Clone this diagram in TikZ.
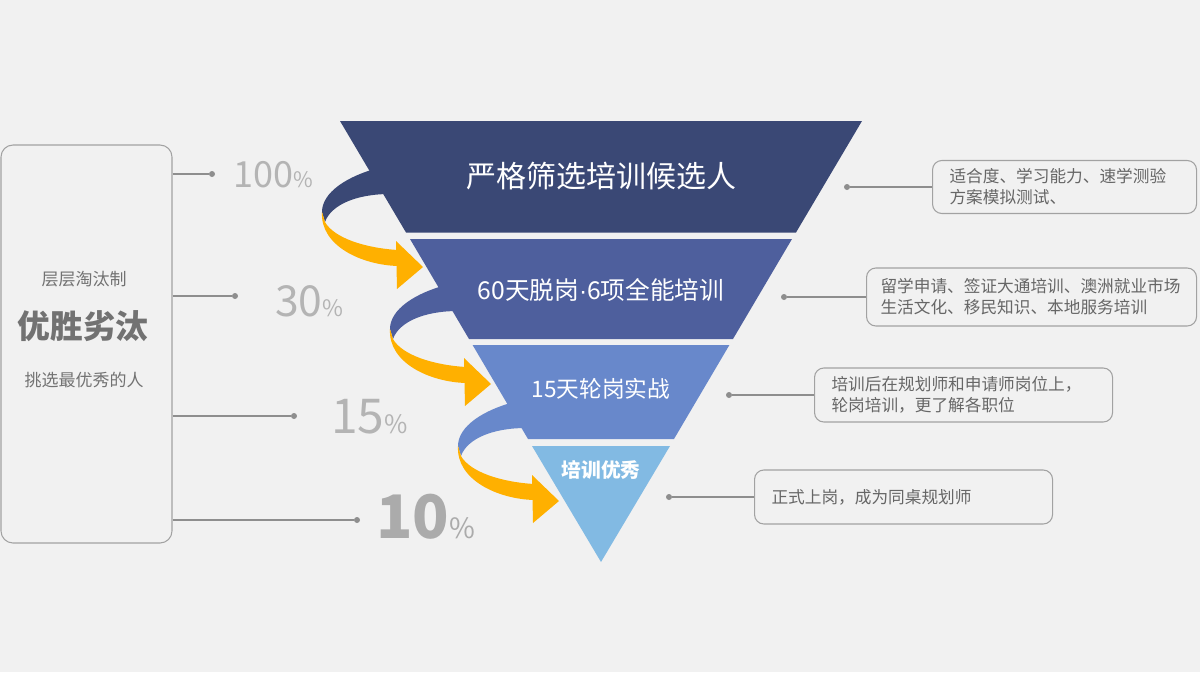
\documentclass[tikz,border=0pt]{standalone}
\usepackage{fontspec}
\setmainfont{Noto Sans CJK SC}
\newfontfamily\latinfont{Liberation Sans}
\usepackage{tikz}
\usetikzlibrary{positioning, calc}
\definecolor{pagebg}{HTML}{F1F1F1}
\definecolor{tierone}{HTML}{3A4875}
\definecolor{tiertwo}{HTML}{4E5F9D}
\definecolor{tierthree}{HTML}{6888CB}
\definecolor{tierfour}{HTML}{82BAE3}
\definecolor{ribbon}{HTML}{FFB000}
\definecolor{pctgray}{HTML}{B4B4B4}
\definecolor{linegray}{HTML}{8E8E8E}
\definecolor{boxgray}{HTML}{A2A2A2}
\definecolor{notetext}{HTML}{666666}
\definecolor{sidetext}{HTML}{727272}
\tikzstyle{layertext} = [text=white, inner sep=0pt]
\tikzstyle{pct} = [text=pctgray, inner sep=0pt, anchor=base west]
\tikzstyle{dot} = [circle, fill=linegray, inner sep=0pt, minimum size=4.5pt]
\tikzstyle{link} = [draw=linegray, line width=0.8pt]
\tikzstyle{note} = [rectangle, rounded corners=7pt, draw=boxgray, line width=0.8pt, anchor=west, align=left, inner xsep=12.75pt, text=notetext, font=\fontsize{12.5}{15.75}\selectfont]
\tikzstyle{side} = [text=sidetext, inner sep=0pt]
% twisted ribbon arrow: shift x, shift y, back colour
\newcommand{\twist}[3]{%
  \begin{scope}[shift={(#1,#2)}]
    \fill[#3] (378,168) .. controls (348,176) and (322,192) .. (322,212) -- (325,222)
      .. controls (331,205) and (356,194) .. (390,194) -- cycle;
    \fill[ribbon] (322,212) .. controls (320,246) and (362,265) .. (398,266) -- (398,250)
      .. controls (365,248) and (334,238) .. (325,222) -- cycle;
    \fill[ribbon] (396,241) -- (423,267) -- (397,289) -- cycle;
  \end{scope}}

\begin{document}
\begin{tikzpicture}[x=0.75pt, y=-0.75pt]
    \fill[pagebg] (0,0) rectangle (1200,672);
    \useasboundingbox (0,0) rectangle (1200,672);

    % Ribbons
    \twist{0}{0}{tierone}
    \twist{68}{117}{tiertwo}
    \twist{136}{234}{tierthree}

    % Funnel
    \fill[tierone] (340,121) -- (862,121) -- (796,232.5) -- (406,232.5) -- cycle;
    \fill[tiertwo] (410,239) -- (792,239) -- (733,339) -- (469,339) -- cycle;
    \fill[tierthree] (472.6,345) -- (729.4,345) -- (674,439) -- (528,439) -- cycle;
    \fill[tierfour] (532,446) -- (670,446) -- (601,562) -- cycle;
    \node[layertext, font=\fontsize{22.5}{27}\selectfont] (l1) at (601,176) {严格筛选培训候选人};
    \node[layertext, font=\fontsize{18.5}{22}\selectfont] (l2) at (601,290) {60天脱岗{\latinfont ·}6项全能培训};
    \node[layertext, font=\fontsize{17}{20}\selectfont] (l3) at (601,389) {15天轮岗实战};
    \node[layertext, font=\bfseries\fontsize{14.8}{18}\selectfont] (l4) at (601,470) {培训优秀};

    % Left panel
    \node[rectangle, rounded corners=9pt, draw=boxgray, line width=0.8pt, minimum width=128.25pt, minimum height=298.5pt, inner sep=0pt] (lbox) at (86.5,344) {};
    \node[side, font=\fontsize{12.75}{15}\selectfont] (s1) at (84,279) {层层淘汰制};
    \node[side, font=\bfseries\fontsize{24.5}{28}\selectfont] (s2) at (83,326) {优胜劣汰};
    \node[side, font=\fontsize{12.75}{15}\selectfont] (s3) at (84,380) {挑选最优秀的人};

    % Percentages
    \node[dot] (d1) at (212,174) {};
    \node[dot] (d2) at (235,296) {};
    \node[dot] (d3) at (294,416) {};
    \node[dot] (d4) at (357,520) {};
    \draw[link] (lbox.east |- d1) -- (d1);
    \draw[link] (lbox.east |- d2) -- (d2);
    \draw[link] (lbox.east |- d3) -- (d3);
    \draw[link] (lbox.east |- d4) -- (d4);
    \node[pct, font=\fontsize{27}{27}\selectfont] (p1) at (233,187) {100{\fontsize{16}{16}\selectfont\%}};
    \node[pct, font=\fontsize{32}{32}\selectfont] (p2) at (275,316) {30{\fontsize{17}{17}\selectfont\%}};
    \node[pct, font=\fontsize{36}{36}\selectfont] (p3) at (331,433) {15{\fontsize{19}{19}\selectfont\%}};
    \node[pct, text=pctgray!95!black, font=\bfseries\fontsize{45}{45}\selectfont] (p4) at (376,538) {10{\mdseries\fontsize{21}{21}\selectfont\%}};

    % Notes
    \node[dot] (r1) at (847,187) {};
    \node[dot] (r2) at (784,297) {};
    \node[dot] (r3) at (729,395) {};
    \node[dot] (r4) at (669,497) {};
    \node[note, text width=172.5pt, minimum height=39.75pt] (n1) at (932,187) {适合度、学习能力、速学测验\\方案模拟测试、};
    \node[note, inner xsep=10.5pt, text width=226.5pt, minimum height=43.5pt] (n2) at (866,297) {留学申请、签证大通培训、澳洲就业市场\\生活文化、移民知识、本地服务培训};
    \node[note, text width=198pt, minimum height=40.5pt] (n3) at (814,395) {培训后在规划师和申请师岗位上，\\轮岗培训，更了解各职位};
    \node[note, text width=198pt, minimum height=40.5pt] (n4) at (754,497) {正式上岗，成为同桌规划师};
    \draw[link] (r1) -- (n1);
    \draw[link] (r2) -- (n2);
    \draw[link] (r3) -- (n3);
    \draw[link] (r4) -- (n4);
\end{tikzpicture}
\end{document}
